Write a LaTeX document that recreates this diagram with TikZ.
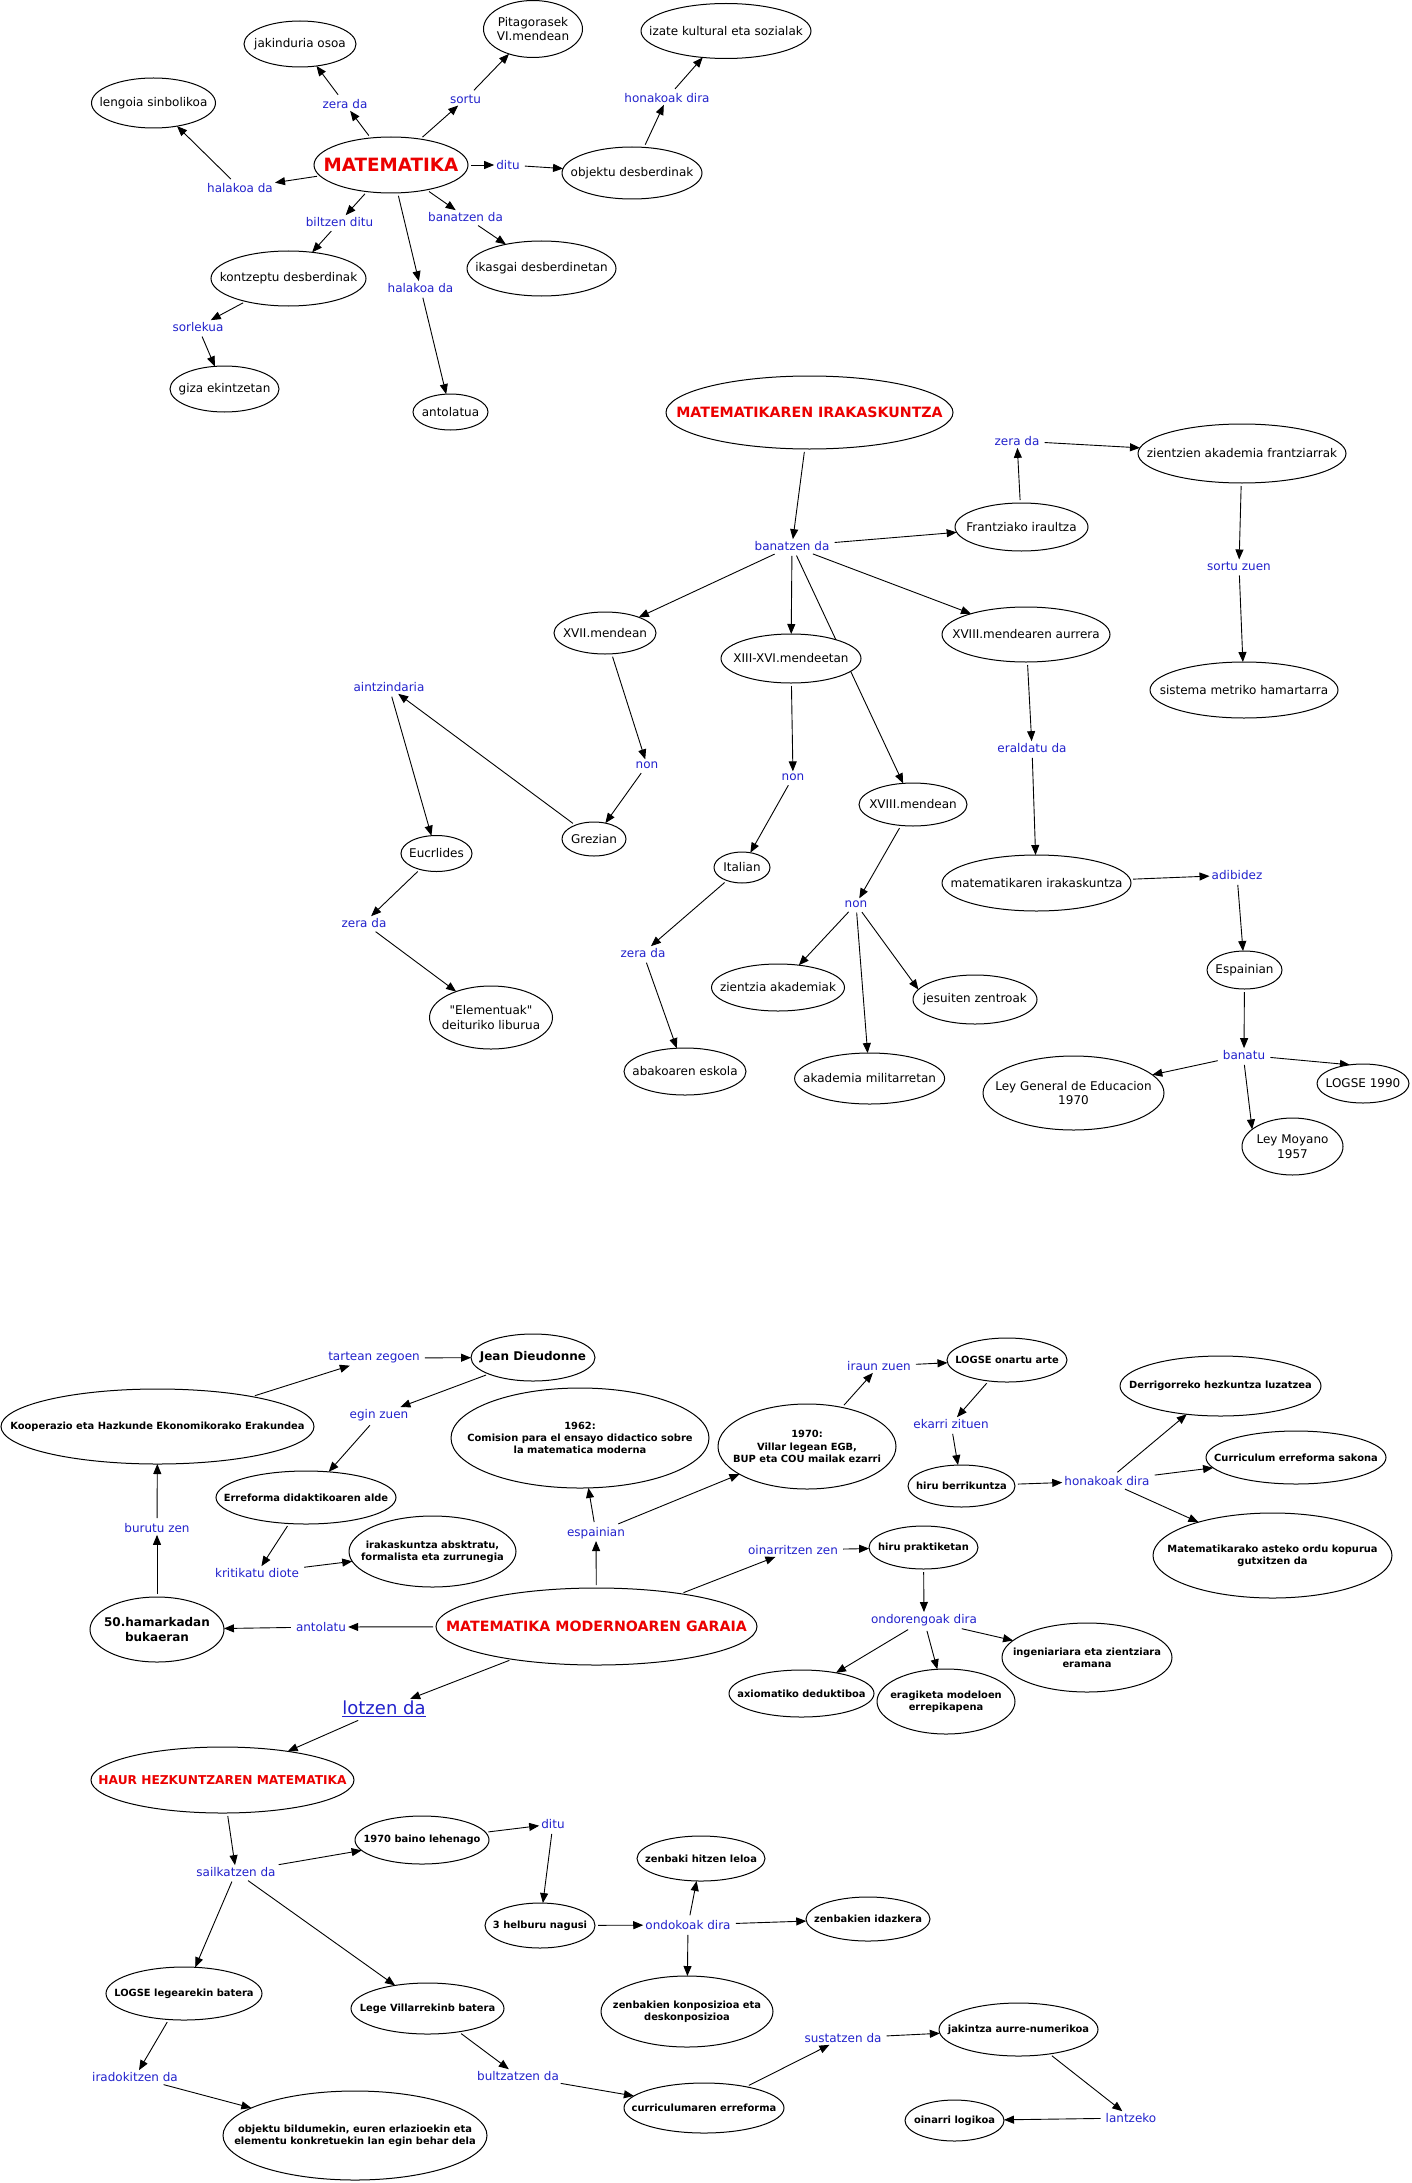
\documentclass[tikz,border=0pt]{standalone}
\usepackage{fontspec}
\setmainfont{DejaVu Sans}
\newfontfamily\rawf{DejaVu Sans}
\usetikzlibrary{shapes.geometric,arrows.meta,backgrounds}
\definecolor{lblue}{RGB}{34,34,204}
\definecolor{tred}{RGB}{235,0,0}
\newcommand\freg{\fontsize{12}{14.5}\selectfont}
\newcommand\fsmb{\fontsize{9.9}{12.2}\selectfont\bfseries}
\newcommand\fbig{\fontsize{12}{14.7}\selectfont\bfseries}
\newcommand\ftitle{\fontsize{14.2}{17}\selectfont\bfseries}
\newcommand\fmat{\fontsize{18.3}{21}\selectfont\bfseries}
\newcommand\fhaur{\fontsize{12.2}{14.5}\selectfont\bfseries}
\newcommand\flotz{\fontsize{18}{21}\selectfont}
\newcommand\sq{{\rawf"}}
\tikzset{
  ell/.style={draw, ellipse, fill=white, line width=1pt, inner sep=0pt, outer sep=0pt},
  ctext/.style={align=center, font=\freg, inner sep=0pt},
  lbl/.style={text=lblue, font=\freg, inner sep=2pt},
  arr/.style={-{Triangle[length=10pt,width=8pt]}, line width=0.9pt, shorten <=3pt},
}
\newcommand\cc[6][]{\node[ell,minimum width=#4pt,minimum height=#5pt] (#2) at (#3) {};\node[ctext,#1] at (#2.center) {#6};}
\begin{document}
\begin{tikzpicture}[x=1pt,y=-1pt]
\useasboundingbox (0,0) rectangle (1412,2183);
% ---------- Section 1 ----------
\cc[text=tred,font=\fmat]{mat}{391,165}{154}{56}{MATEMATIKA}
\cc{jak}{300,44}{112}{46}{jakinduria osoa}
\cc{pit}{533,29}{99}{57}{Pitagorasek\\VI.mendean}
\cc{iza}{726,31}{170}{55}{izate kultural eta sozialak}
\cc{len}{153.5,103}{124}{50}{lengoia sinbolikoa}
\cc{obj}{632,173}{140}{52}{objektu desberdinak}
\cc{kon}{288.5,278.5}{155}{55}{kontzeptu desberdinak}
\cc{ika}{541.5,268.5}{149}{55}{ikasgai desberdinetan}
\cc{giz}{224.5,389}{109}{46}{giza ekintzetan}
\cc{ant}{450.5,412}{75}{36}{antolatua}
\node[lbl] (l1) at (345,104) {zera da};
\node[lbl] (l2) at (465.5,99) {sortu};
\node[lbl] (l3) at (667,98) {honakoak dira};
\node[lbl] (l4) at (508,165) {ditu};
\node[lbl] (l5) at (240,188) {halakoa da};
\node[lbl] (l6) at (339.5,222) {biltzen ditu};
\node[lbl] (l7) at (465.5,217) {banatzen da};
\node[lbl] (l8) at (420.5,288) {halakoa da};
\node[lbl] (l9) at (198,327) {sorlekua};
% ---------- Section 2 ----------
\cc[text=tred,font=\ftitle]{mir}{809.5,412.5}{287}{73}{MATEMATIKAREN IRAKASKUNTZA}
\cc{fra}{1021.5,527}{133}{48}{Frantziako iraultza}
\cc{zie}{1242,453.5}{208}{59}{zientzien akademia frantziarrak}
\cc{sis}{1244,690}{188}{56}{sistema metriko hamartarra}
\cc{x17}{605,633}{102}{42}{XVII.mendean}
\cc{x1316}{791,658.5}{140}{49}{XIII-XVI.mendeetan}
\cc{x18a}{1026,634.5}{168}{55}{XVIII.mendearen aurrera}
\cc{x18}{913,804.5}{108}{43}{XVIII.mendean}
\cc{gre}{594,839}{64}{34}{Grezian}
\cc{euc}{436.5,853.5}{71}{36}{Eucrlides}
\cc{ele}{491,1017.5}{123}{63}{\sq Elementuak\sq\\deituriko liburua}
\cc{ita}{742,867.5}{56}{31}{Italian}
\cc{aba}{685,1071.5}{122}{47}{abakoaren eskola}
\cc{zak}{778,987.5}{133}{47}{zientzia akademiak}
\cc{jes}{975,999.5}{124}{49}{jesuiten zentroak}
\cc{mil}{869.6,1078.5}{150}{51}{akademia militarretan}
\cc{mir2}{1036.5,883}{189}{56}{matematikaren irakaskuntza}
\cc{esp}{1244.5,970}{75}{38}{Espainian}
\cc{lge}{1073.5,1093}{181}{74}{Ley General de Educacion\\1970}
\cc{log90}{1363,1083.5}{92}{39}{LOGSE 1990}
\cc{moy}{1292.5,1146.5}{101}{57}{Ley Moyano\\1957}
\node[lbl] (m1) at (792,546) {banatzen da};
\node[lbl] (m2) at (1017,441) {zera da};
\node[lbl] (m3) at (1239,566) {sortu zuen};
\node[lbl] (m4) at (647,765) {non};
\node[lbl] (m5) at (793,777) {non};
\node[lbl] (m6) at (1032,748) {eraldatu da};
\node[lbl] (m7) at (389,687) {aintzindaria};
\node[lbl] (m8) at (364,923) {zera da};
\node[lbl] (m9) at (643,953) {zera da};
\node[lbl] (m10) at (856,904) {non};
\node[lbl] (m11) at (1237,875) {adibidez};
\node[lbl] (m12) at (1244,1055) {banatu};
% ---------- Section 3 ----------
\cc[font=\fsmb]{kop}{157.5,1426.5}{313}{75}{Kooperazio eta Hazkunde Ekonomikorako Erakundea}
\cc[font=\fbig]{jea}{533,1357.5}{124}{47}{Jean Dieudonne}
\cc[font=\fsmb]{c62}{580,1438}{258}{100}{1962:\\Comision para el ensayo didactico sobre\\la matematica moderna}
\cc[font=\fsmb]{err}{306,1497.5}{180}{53}{Erreforma didaktikoaren alde}
\cc[font=\fsmb]{abs}{432.5,1551.5}{167}{71}{irakaskuntza absktratu,\\formalista eta zurrunegia}
\cc[font=\fbig]{h50}{157,1629.5}{134}{65}{50.hamarkadan\\bukaeran}
\cc[text=tred,font=\ftitle]{mmg}{596.5,1626.5}{321}{77}{MATEMATIKA MODERNOAREN GARAIA}
\cc[font=\fsmb]{c70}{807,1446.5}{178}{85}{1970:\\Villar legean EGB,\\BUP eta COU mailak ezarri}
\cc[font=\fsmb]{lgo}{1007,1360}{120}{44}{LOGSE onartu arte}
\cc[font=\fsmb]{hbe}{961.5,1486}{107}{42}{hiru berrikuntza}
\cc[font=\fsmb]{der}{1220.5,1386}{201}{60}{Derrigorreko hezkuntza luzatzea}
\cc[font=\fsmb]{cur}{1296,1457.5}{180}{53}{Curriculum erreforma sakona}
\cc[font=\fsmb]{mas}{1272.5,1555.5}{239}{85}{Matematikarako asteko ordu kopurua\\gutxitzen da}
\cc[font=\fsmb]{hpr}{923.5,1547.5}{109}{43}{hiru praktiketan}
\cc[font=\fsmb]{axi}{801.5,1693.5}{145}{47}{axiomatiko deduktiboa}
\cc[font=\fsmb]{era}{946,1701.5}{138}{65}{eragiketa modeloen\\errepikapena}
\cc[font=\fsmb]{ing}{1087,1657.5}{170}{69}{ingeniariara eta zientziara\\eramana}
\cc[text=tred,font=\fhaur]{hau}{222.5,1780}{263}{66}{HAUR HEZKUNTZAREN MATEMATIKA}
\cc[font=\fsmb]{b70}{422,1840}{134}{48}{1970 baino lehenago}
\cc[font=\fsmb]{hel}{540,1925.5}{110}{45}{3 helburu nagusi}
\cc[font=\fsmb]{lle}{184,1993.5}{156}{53}{LOGSE legearekin batera}
\cc[font=\fsmb]{lvi}{427.5,2008.5}{153}{51}{Lege Villarrekinb batera}
\cc[font=\fsmb]{obm}{355,2135.5}{264}{89}{objektu bildumekin, euren erlazioekin eta\\elementu konkretuekin lan egin behar dela}
\cc[font=\fsmb]{zhl}{701,1858.5}{128}{45}{zenbaki hitzen leloa}
\cc[font=\fsmb]{zid}{868,1919}{124}{44}{zenbakien idazkera}
\cc[font=\fsmb]{zko}{687,2011.5}{172}{71}{zenbakien konposizioa eta\\deskonposizioa}
\cc[font=\fsmb]{cer}{704,2108}{160}{50}{curriculumaren erreforma}
\cc[font=\fsmb]{jak2}{1018.5,2029.5}{159}{53}{jakintza aurre-numerikoa}
\cc[font=\fsmb]{oin}{954.5,2120.5}{99}{41}{oinarri logikoa}
\node[lbl] (n1) at (374,1358) {tartean zegoen};
\node[lbl] (n2) at (379,1415) {egin zuen};
\node[lbl] (n3) at (157,1528) {burutu zen};
\node[lbl] (n4) at (257,1573) {kritikatu diote};
\node[lbl] (n5) at (596,1533) {espainian};
\node[lbl] (n6) at (321,1627) {antolatu};
\node[lbl,font=\flotz] (n7) at (384,1709) {\underline{lotzen da}};
\node[lbl] (n8) at (879,1366) {iraun zuen};
\node[lbl] (n9) at (951,1424) {ekarri zituen};
\node[lbl] (n10) at (1107,1481) {honakoak dira};
\node[lbl] (n11) at (793,1550) {oinarritzen zen};
\node[lbl] (n12) at (924,1620) {ondorengoak dira};
\node[lbl] (n13) at (236,1872) {sailkatzen da};
\node[lbl] (n14) at (553,1824) {ditu};
\node[lbl] (n15) at (688,1925) {ondokoak dira};
\node[lbl] (n16) at (135,2077) {iradokitzen da};
\node[lbl] (n17) at (518,2076) {bultzatzen da};
\node[lbl] (n18) at (843,2038) {sustatzen da};
\node[lbl] (n19) at (1131,2118) {lantzeko};
% ---------- Connectors ----------
\begin{pgfonlayer}{background}
\fill[white] (0,0) rectangle (1412,2183);
\draw[arr] (mat) -- (l1); \draw[arr] (l1) -- (jak);
\draw[arr] (mat) -- (l2); \draw[arr] (l2) -- (pit);
\draw[arr] (mat) -- (l4); \draw[arr] (l4) -- (obj);
\draw[arr] (obj) -- (l3); \draw[arr] (l3) -- (iza);
\draw[arr] (mat) -- (l5); \draw[arr] (l5) -- (len);
\draw[arr] (mat) -- (l6); \draw[arr] (l6) -- (kon);
\draw[arr] (mat) -- (l7); \draw[arr] (l7) -- (ika);
\draw[arr] (mat) -- (l8); \draw[arr] (l8) -- (ant);
\draw[arr] (kon) -- (l9); \draw[arr] (l9) -- (giz);
%
\draw[arr] (mir) -- (m1);
\draw[arr] (m1) -- (fra); \draw[arr] (m1) -- (x17); \draw[arr] (m1) -- (x1316);
\draw[arr] (m1) -- (x18); \draw[arr] (m1) -- (x18a);
\draw[arr] (fra) -- (m2); \draw[arr] (m2) -- (zie);
\draw[arr] (zie) -- (m3); \draw[arr] (m3) -- (sis);
\draw[arr] (x17) -- (m4); \draw[arr] (m4) -- (gre);
\draw[arr] (gre) -- (m7); \draw[arr] (m7) -- (euc);
\draw[arr] (euc) -- (m8); \draw[arr] (m8) -- (ele);
\draw[arr] (x1316) -- (m5); \draw[arr] (m5) -- (ita);
\draw[arr] (ita) -- (m9); \draw[arr] (m9) -- (aba);
\draw[arr] (x18) -- (m10); \draw[arr] (m10) -- (zak); \draw[arr] (m10) -- (jes.170); \draw[arr] (m10) -- (mil);
\draw[arr] (x18a) -- (m6); \draw[arr] (m6) -- (mir2);
\draw[arr] (mir2) -- (m11); \draw[arr] (m11) -- (esp);
\draw[arr] (esp) -- (m12); \draw[arr] (m12) -- (lge.13); \draw[arr] (m12) -- (log90.125); \draw[arr] (m12.south) -- (moy.157);
%
\draw[arr] (kop) -- (n1); \draw[arr] (n1) -- (jea);
\draw[arr] (jea) -- (n2); \draw[arr] (n2) -- (err);
\draw[arr] (err) -- (n4); \draw[arr] (n4) -- (abs);
\draw[arr] (h50) -- (n3); \draw[arr] (n3) -- (kop);
\draw[arr] (mmg) -- (n6); \draw[arr] (n6) -- (h50);
\draw[arr] (mmg) -- (n5); \draw[arr] (n5) -- (c62); \draw[arr] (n5) -- (c70);
\draw[arr] (c70) -- (n8); \draw[arr] (n8) -- (lgo);
\draw[arr] (lgo) -- (n9); \draw[arr] (n9) -- (hbe);
\draw[arr] (hbe) -- (n10); \draw[arr] (n10) -- (der); \draw[arr] (n10) -- (cur); \draw[arr] (n10) -- (mas);
\draw[arr] (mmg) -- (n11); \draw[arr] (n11) -- (hpr);
\draw[arr] (hpr) -- (n12); \draw[arr] (n12) -- (axi); \draw[arr] (n12) -- (era); \draw[arr] (n12) -- (ing);
\draw[arr] (mmg) -- (n7); \draw[arr] (n7) -- (hau);
\draw[arr] (hau) -- (n13); \draw[arr] (n13) -- (b70); \draw[arr] (n13) -- (lle); \draw[arr] (n13) -- (lvi);
\draw[arr] (b70) -- (n14); \draw[arr] (n14) -- (hel);
\draw[arr] (hel) -- (n15); \draw[arr] (n15) -- (zhl); \draw[arr] (n15) -- (zid); \draw[arr] (n15) -- (zko);
\draw[arr] (lle) -- (n16); \draw[arr] (n16) -- (obm);
\draw[arr] (lvi) -- (n17); \draw[arr] (n17) -- (cer);
\draw[arr] (cer) -- (n18); \draw[arr] (n18) -- (jak2);
\draw[arr] (jak2) -- (n19); \draw[arr] (n19) -- (oin);
\end{pgfonlayer}
\end{tikzpicture}
\end{document}
